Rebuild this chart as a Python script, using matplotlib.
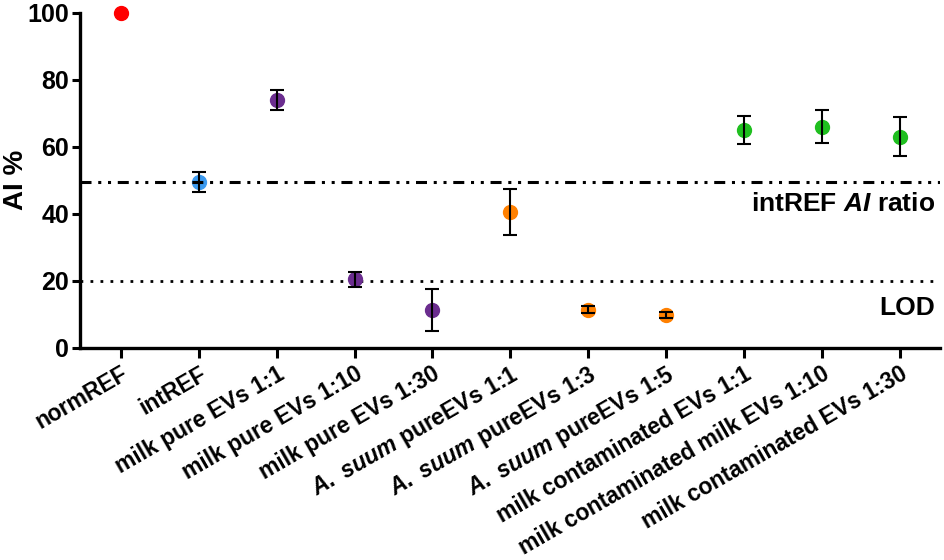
import matplotlib.pyplot as plt

plt.rcParams["font.family"] = "Liberation Sans"
plt.rcParams["font.weight"] = "bold"
plt.rcParams["mathtext.fontset"] = "custom"
plt.rcParams["mathtext.rm"] = "Liberation Sans:bold"
plt.rcParams["mathtext.it"] = "Liberation Sans:italic:bold"

labels = [
    "normREF",
    "intREF",
    "milk pure EVs 1:1",
    "milk pure EVs 1:10",
    "milk pure EVs 1:30",
    r"$A.$ $suum$ pureEVs 1:1",
    r"$A.$ $suum$ pureEVs 1:3",
    r"$A.$ $suum$ pureEVs 1:5",
    "milk contaminated EVs 1:1",
    "milk contaminated milk EVs 1:10",
    "milk contaminated EVs 1:30",
]
values = [100, 49.4, 74.0, 20.4, 11.3, 40.6, 11.4, 9.9, 65.0, 66.0, 63.0]
errors = [0, 3.0, 3.0, 2.2, 6.3, 6.8, 1.0, 0.9, 4.2, 5.0, 5.8]
colors = ["#ff0000", "#3d9bf0", "#6b2d8f", "#6b2d8f", "#6b2d8f",
          "#ff8000", "#ff8000", "#ff8000", "#1fbf1f", "#1fbf1f", "#1fbf1f"]

int_ref_ratio = 49.4
lod = 20

fig = plt.figure(figsize=(9.45, 5.6), dpi=100)
ax = fig.add_axes([0.085, 0.379, 0.91, 0.598])

x = list(range(len(labels)))

ax.axhline(int_ref_ratio, color="black", lw=2.2,
           linestyle=(0, (3.6, 2.2, 1.0, 2.2, 1.0, 2.2)), zorder=3)
ax.axhline(lod, color="black", lw=2.0, linestyle=(0, (1.0, 2.6)), zorder=1)

for i in x:
    ax.plot(i, values[i], "o", color=colors[i], ms=10, zorder=2, clip_on=False)
    if errors[i] > 0:
        ax.errorbar(i, values[i], yerr=errors[i], fmt="none", ecolor="black",
                    elinewidth=1.5, capsize=5, capthick=1.5, zorder=4)

ax.text(10.45, 42.8, r"intREF $AI$ ratio", ha="right", va="center", fontsize=19)
ax.text(10.45, 12, "LOD", ha="right", va="center", fontsize=19)

ax.set_xlim(-0.52, 10.52)
ax.set_ylim(0, 100)
ax.set_yticks([0, 20, 40, 60, 80, 100])
ax.set_xticks(x)
ax.set_xticklabels(labels, rotation=30, ha="right", rotation_mode="anchor", fontsize=16.5)
ax.tick_params(axis="y", labelsize=18, width=2.2, length=6, pad=2)
ax.tick_params(axis="x", width=2.2, length=7)

# y label placed by hand so it is not pushed off the left edge
fig.text(16 / 945, 0.678, "AI %", rotation=90, ha="center", va="center",
         fontsize=20, fontweight="bold")

for s in ["top", "right"]:
    ax.spines[s].set_visible(False)
for s in ["left", "bottom"]:
    ax.spines[s].set_linewidth(2.4)

fig.savefig("out.png", dpi=100)
